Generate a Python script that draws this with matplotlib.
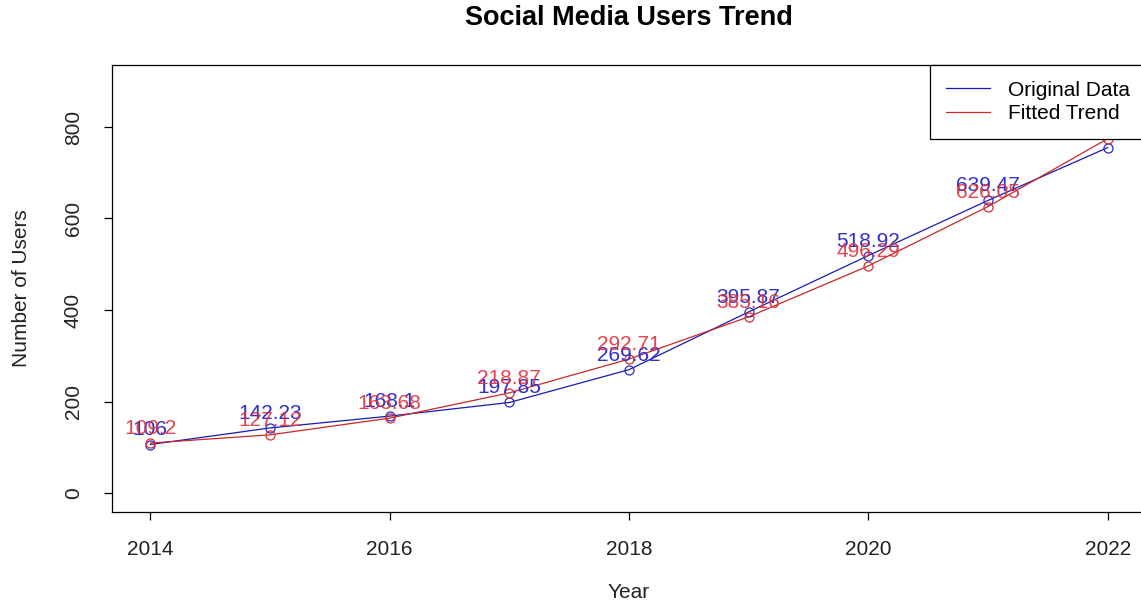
import numpy as np
import matplotlib.pyplot as plt

# ------------------------------------------------------------------
# DATA
# ------------------------------------------------------------------
years = [2014, 2015, 2016, 2017, 2018, 2019, 2020, 2021, 2022]
original = [106, 142.23, 168.1, 197.85, 269.62, 395.87, 518.92, 639.47, 755.0]
fitted = [109.2, 127.12, 163.68, 218.87, 292.71, 385.16, 496.29, 626.05, 774.45]
xticks = [2014, 2016, 2018, 2020, 2022]
yticks = [0, 200, 400, 600, 800]

plt.rcParams['font.family'] = ['Liberation Sans', 'DejaVu Sans']

W, H = 1141, 606
fig = plt.figure(figsize=(W / 100, H / 100), dpi=100)
# axes box in pixels: left 112, right 1146 (runs past the image edge), top 65, bottom 512
ax = fig.add_axes([112 / W, (H - 512) / H, (1146 - 112) / W, (512 - 65) / H])

ax.plot(years, original, color='#1a1ab4', lw=0.9, marker='o', ms=6.5,
        mfc='none', mec='#2a2ac8', mew=0.9, label='Original Data')
ax.plot(years, fitted, color='#c82828', lw=0.9, marker='o', ms=6.5,
        mfc='none', mec='#d83030', mew=0.9, label='Fitted Trend')

# value labels above the points (R style: pos = 3)
for x, v in zip(years, original):
    ax.annotate(f'{v:g}', (x, v), xytext=(0, 6.5),
                textcoords='offset points', ha='center', va='baseline',
                fontsize=15, color='#2f2fd0', clip_on=False)
for x, v in zip(years, fitted):
    ax.annotate(f'{v:g}', (x, v), xytext=(0, 6.5),
                textcoords='offset points', ha='center', va='baseline',
                fontsize=15, color='#e0303a', alpha=0.9, clip_on=False)

ax.set_xlim(2013.68, 2022.32)
ax.set_ylim(-41.5, 935.5)
ax.set_xticks(xticks)
ax.set_yticks(yticks)
ax.tick_params(axis='both', direction='out', length=6, width=0.9,
               labelsize=15, labelcolor='#222222')
ax.tick_params(axis='x', pad=14)
ax.tick_params(axis='y', pad=15)
for lab in ax.get_yticklabels():
    lab.set_rotation(90)
    lab.set_va('center')
for sp in ax.spines.values():
    sp.set_linewidth(0.9)
    sp.set_color('black')

fig.text(629 / W, 1 - 18 / H, 'Social Media Users Trend', ha='center',
         va='center', fontsize=19.5, fontweight='bold')
fig.text(629 / W, 1 - 593 / H, 'Year', ha='center', va='center',
         fontsize=15, color='#222222')
fig.text(22 / W, 1 - 288 / H, 'Number of Users', ha='center', va='center',
         rotation=90, fontsize=15, color='#222222')

leg = ax.legend(loc='upper right', bbox_to_anchor=(1, 1), borderaxespad=0,
                fontsize=15, fancybox=False, edgecolor='black', framealpha=1,
                handlelength=2.1, handletextpad=0.9, borderpad=0.75,
                labelspacing=0.22)
leg.set_zorder(10)
leg.get_frame().set_linewidth(0.9)
for h in leg.get_lines():
    h.set_marker('')

fig.savefig('out.png', dpi=100)
